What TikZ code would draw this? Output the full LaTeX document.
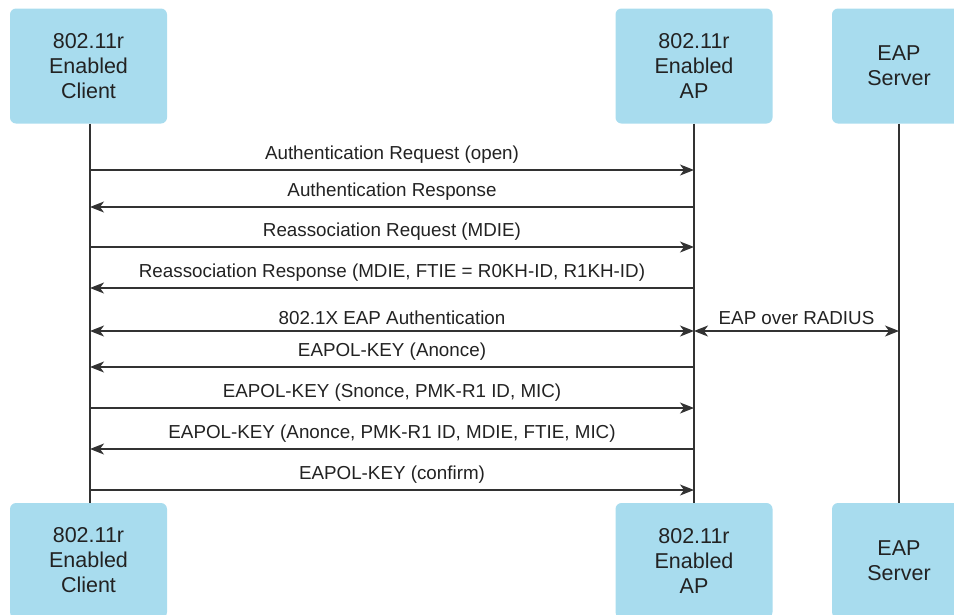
\documentclass[tikz,border=0pt]{standalone}
\usepackage{fontspec}
\setmainfont{Liberation Sans}
\usetikzlibrary{arrows.meta}
\definecolor{boxblue}{RGB}{168,220,238}
\definecolor{ink}{RGB}{34,34,34}
\definecolor{wire}{RGB}{50,50,50}
\tikzset{
  actor/.style={fill=boxblue, rounded corners=6pt, minimum width=157pt, minimum height=115pt,
    align=center, font=\fontsize{21.5}{25}\selectfont, text=ink, inner sep=0pt},
  lifeline/.style={draw=wire, line width=1.3pt},
  msg/.style={draw=wire, line width=1.3pt, -{Stealth[length=14pt,width=11pt,inset=4pt]}},
  bimsg/.style={draw=wire, line width=1.3pt, {Stealth[length=14pt,width=11pt,inset=4pt]}-{Stealth[length=14pt,width=11pt,inset=4pt]}},
  lbl/.style={font=\fontsize{18.8}{22}\selectfont, text=ink, inner sep=0pt, above=5.5pt}
}
\begin{document}
\begin{tikzpicture}[x=1pt,y=-1pt]
\useasboundingbox (0,0) rectangle (954,614);
\clip (0,0) rectangle (954,614);
% participants, top row
\node[actor] (cT) at (88.5,66) {802.11r\\Enabled\\Client};
\node[actor] (aT) at (694,66) {802.11r\\Enabled\\AP};
\node[actor, minimum width=134pt] (sT) at (899,66) {EAP\\Server};
% participants, bottom row
\node[actor] (cB) at (88.5,560.5) {802.11r\\Enabled\\Client};
\node[actor] (aB) at (694,560.5) {802.11r\\Enabled\\AP};
\node[actor, minimum width=134pt] (sB) at (899,560.5) {EAP\\Server};
% lifelines
\coordinate (cx) at (90,0);
\draw[lifeline] (cx |- cT.south) -- (cx |- cB.north);
\draw[lifeline] (aT.south) -- (aB.north);
\draw[lifeline] (sT.south) -- (sB.north);
% messages
\draw[msg] (cx |- 0,170) -- node[lbl] {Authentication Request (open)} (aT.south |- 0,170);
\draw[msg] (aT.south |- 0,207) -- node[lbl] {Authentication Response} (cx |- 0,207);
\draw[msg] (cx |- 0,247) -- node[lbl] {Reassociation Request (MDIE)} (aT.south |- 0,247);
\draw[msg] (aT.south |- 0,288) -- node[lbl] {Reassociation Response (MDIE, FTIE = R0KH-ID, R1KH-ID)} (cx |- 0,288);
\draw[bimsg] (cx |- 0,331) -- node[lbl] {802.1X EAP Authentication} (aT.south |- 0,331);
\draw[bimsg] (aT.south |- 0,331) -- node[lbl] {EAP over RADIUS} (sT.south |- 0,331);
\draw[msg] (aT.south |- 0,367) -- node[lbl] {EAPOL-KEY (Anonce)} (cx |- 0,367);
\draw[msg] (cx |- 0,408) -- node[lbl] {EAPOL-KEY (Snonce, PMK-R1 ID, MIC)} (aT.south |- 0,408);
\draw[msg] (aT.south |- 0,449) -- node[lbl] {EAPOL-KEY (Anonce, PMK-R1 ID, MDIE, FTIE, MIC)} (cx |- 0,449);
\draw[msg] (cx |- 0,490) -- node[lbl] {EAPOL-KEY (confirm)} (aT.south |- 0,490);
\end{tikzpicture}
\end{document}
